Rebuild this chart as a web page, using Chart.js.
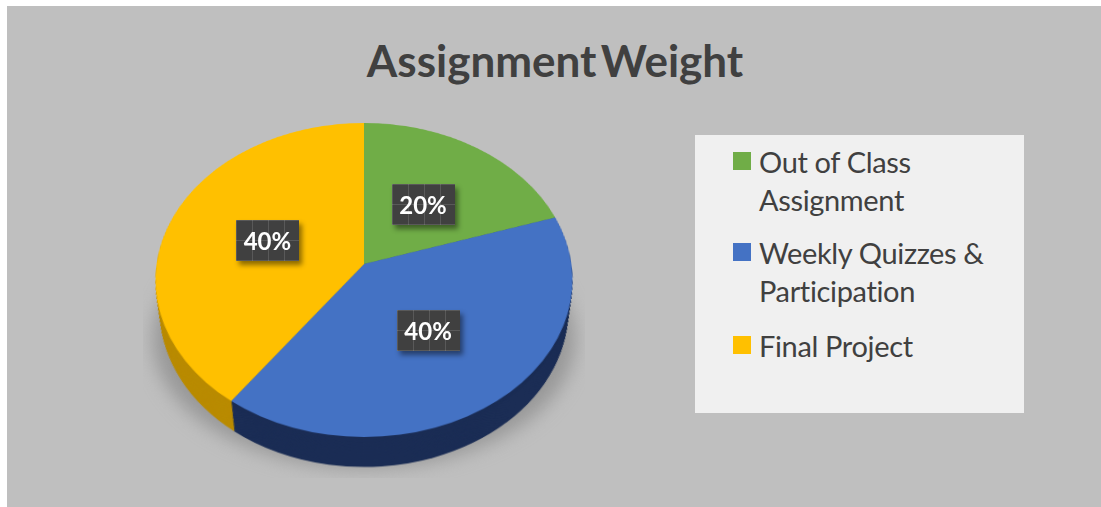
<!DOCTYPE html>
<html>
<head>
<meta charset="utf-8">
<script src="https://cdn.jsdelivr.net/npm/chart.js@4"></script>
<style>
html, body { margin: 0; padding: 0; background: #fff; overflow: hidden; }
#frame { position: absolute; left: 7px; top: 6px; width: 1094px; height: 501px; background: #bfbfbf; }
#stage { position: absolute; left: 0; top: 0; width: 1101px; height: 507px; overflow: hidden; font-family: Lato, sans-serif; color: #404040; }
#title { position: absolute; left: 0; width: 1110px; top: 36px; text-align: center; font-size: 44px; font-weight: 700; line-height: 48px; word-spacing: -6px; white-space: nowrap; }
#shadowClip { position: absolute; left: 143px; top: 250px; width: 442px; height: 228px; overflow: hidden; }
#shadow { position: absolute; left: 10px; top: -40px; width: 422px; height: 258px; border-radius: 50%; background: #989898; filter: blur(9px); }
#pieChart { position: absolute; left: 0; top: 0; transform-origin: 0 0; }
#legendBox { position: absolute; left: 695px; top: 135px; width: 329px; height: 278px; background: #f0f0f0; }
.item { position: absolute; left: 64px; width: 250px; font-size: 29px; letter-spacing: -0.35px; line-height: 37.5px; }
.swatch { position: absolute; left: -26px; top: 9px; width: 18px; height: 18px; }
.tag { position: absolute; width: 63px; height: 41px; line-height: 41px; text-align: center; color: #fff; font-size: 24px; font-weight: 700;
  background-color: #404040;
  background-image: linear-gradient(rgba(255,255,255,.13) 1px, transparent 1px), linear-gradient(90deg, rgba(255,255,255,.13) 1px, transparent 1px);
  background-size: 16px 20px;
  box-shadow: 3px 4px 5px rgba(0,0,0,.45); }
</style>
</head>
<body>
<div id="frame"></div>
<div id="stage">
  <div id="title"></div>
  <div id="shadowClip"><div id="shadow"></div></div>
  <canvas id="pieChart" width="500" height="500"></canvas>
  <div id="legendBox"></div>
</div>
<script>
const chartTitle = 'Assignment Weight';
const categories = ['Out of Class Assignment', 'Weekly Quizzes & Participation', 'Final Project'];
const weights = [20, 40, 40];
const sliceColors = ['#70ad47', '#4472c4', '#ffc000'];
const sideColors = ['#4b7530', '#1b2d55', '#b98b00'];
const legendTops = [8, 99, 192];

// perspective of the tilted pie: canvas plane -> page
const size = 500, radius = 200, mid = size / 2;
const tilt = -0.1019, cx = 364, cy = 264, spanX = 207.4, spanY = 155.4;
const hx = [spanX / radius, cx * tilt / radius, cx - spanX * mid / radius - cx * tilt * mid / radius];
const hy = [0, (cy * tilt + spanY) / radius, cy - (cy * tilt + spanY) * mid / radius];
const hw = [0, tilt / radius, 1 - tilt * mid / radius];

function project(x, y) {
    const w = hw[1] * y + hw[2];
    return { x: (hx[0] * x + hx[1] * y + hx[2]) / w, y: (hy[1] * y + hy[2]) / w };
}

const canvas = document.getElementById('pieChart');
canvas.style.transform = 'matrix3d(' + [hx[0], hy[0], 0, hw[0], hx[1], hy[1], 0, hw[1], 0, 0, 1, 0, hx[2], hy[2], 0, hw[2]].join(',') + ')';

// the side of the pie: the same arcs, pushed down layer by layer
const sidePlugin = {
    id: 'pieSide',
    beforeDatasetsDraw(chart) {
        const ctx = chart.ctx;
        const arcs = chart.getDatasetMeta(0).data;
        const depth = 0.193 * radius, layers = 40;
        for (let i = layers; i > 0; i--) {
            const t = i / layers;
            const s = 1 - 0.04 * t;
            arcs.forEach((arc, index) => {
                const p = arc.getProps(['x', 'y', 'startAngle', 'endAngle', 'outerRadius']);
                const y = p.y + depth * t;
                ctx.beginPath();
                ctx.moveTo(p.x, y);
                ctx.arc(p.x, y, p.outerRadius * s, p.startAngle, p.endAngle);
                ctx.closePath();
                ctx.fillStyle = sideColors[index];
                ctx.fill();
            });
        }
    }
};

const stage = document.getElementById('stage');
const labelPlugin = {
    id: 'pageLabels',
    afterRender(chart) {
        if (chart.$labelsDone) return;
        chart.$labelsDone = true;
        chart.getDatasetMeta(0).data.forEach((arc, index) => {
            const pos = project(arc.tooltipPosition().x, arc.tooltipPosition().y);
            const tag = document.createElement('div');
            tag.className = 'tag';
            tag.textContent = weights[index] + '%';
            tag.style.left = (pos.x - 31) + 'px';
            tag.style.top = (pos.y - 20) + 'px';
            stage.appendChild(tag);
        });
    }
};

document.getElementById('title').textContent = chartTitle;

const legendBox = document.getElementById('legendBox');
categories.forEach((name, index) => {
    const item = document.createElement('div');
    item.className = 'item';
    item.style.top = legendTops[index] + 'px';
    item.textContent = name;
    const swatch = document.createElement('div');
    swatch.className = 'swatch';
    swatch.style.background = sliceColors[index];
    item.appendChild(swatch);
    legendBox.appendChild(item);
});

new Chart(canvas, {
    type: 'pie',
    data: {
        labels: categories,
        datasets: [{ data: weights, backgroundColor: sliceColors, borderWidth: 0 }]
    },
    options: {
        responsive: false,
        animation: false,
        layout: { padding: mid - radius },
        plugins: { legend: { display: false }, tooltip: { enabled: false } }
    },
    plugins: [sidePlugin, labelPlugin]
});
</script>
</body>
</html>
